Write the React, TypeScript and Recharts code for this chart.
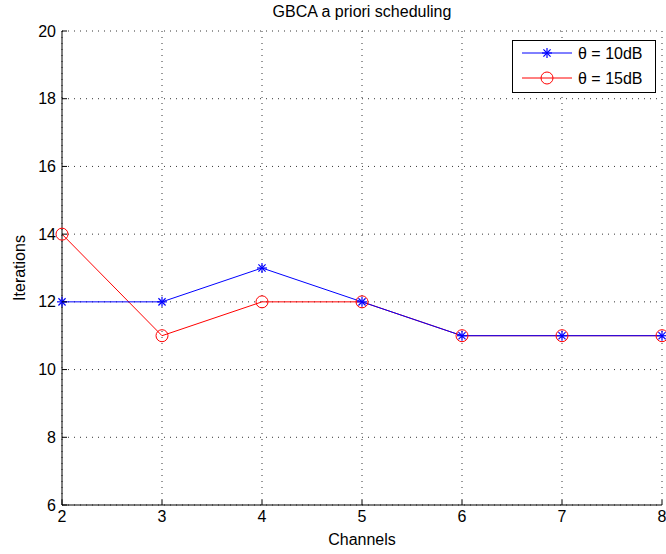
import React from 'react';
import { LineChart, Line, XAxis, YAxis, CartesianGrid } from 'recharts';

const channels = [2, 3, 4, 5, 6, 7, 8];
const iter10dB = [12, 12, 13, 12, 11, 11, 11];
const iter15dB = [14, 11, 12, 12, 11, 11, 11];
const xTicks = [2, 3, 4, 5, 6, 7, 8];
const yTicks = [6, 8, 10, 12, 14, 16, 18, 20];

const data = channels.map((c, i) => ({ ch: c, a: iter10dB[i], b: iter15dB[i] }));

const FONT = '"Liberation Sans", Arial, sans-serif';

const Star = (props: any) => {
  const { cx, cy } = props;
  if (cx == null || cy == null) return null;
  const r = 5;
  const d = 3.6;
  return (
    <g stroke="#0000ff" strokeWidth={1.2}>
      <line x1={cx - r} y1={cy} x2={cx + r} y2={cy} />
      <line x1={cx} y1={cy - r} x2={cx} y2={cy + r} />
      <line x1={cx - d} y1={cy - d} x2={cx + d} y2={cy + d} />
      <line x1={cx - d} y1={cy + d} x2={cx + d} y2={cy - d} />
    </g>
  );
};

const Ring = (props: any) => {
  const { cx, cy } = props;
  if (cx == null || cy == null) return null;
  return <circle cx={cx} cy={cy} r={6} fill="none" stroke="#ff0000" strokeWidth={1} />;
};

const YTick = (props: any) => {
  const { x, y, payload } = props;
  return (
    <g>
      <line x1={x} y1={y} x2={x + 5} y2={y} stroke="#000" />
      <text x={x - 6} y={y} textAnchor="end" dominantBaseline="central" fontSize={16} fontFamily={FONT} fill="#000">
        {payload.value}
      </text>
    </g>
  );
};

const XTick = (props: any) => {
  const { x, y, payload } = props;
  return (
    <g>
      <line x1={x} y1={y} x2={x} y2={y - 5} stroke="#000" />
      <text x={x} y={y + 17} textAnchor="middle" fontSize={16} fontFamily={FONT} fill="#000">
        {payload.value}
      </text>
    </g>
  );
};

const LegendBox = () => (
  <svg width={144} height={53} style={{ display: 'block' }}>
    <rect x={0.5} y={0.5} width={143} height={52} fill="#fff" stroke="#000" />
    <line x1={10} y1={13} x2={60} y2={13} stroke="#0000ff" />
    <Star cx={35} cy={13} />
    <text x={66} y={13} dominantBaseline="central" fontSize={16} fontFamily={FONT}>θ = 10dB</text>
    <line x1={10} y1={38} x2={60} y2={38} stroke="#ff0000" />
    <Ring cx={35} cy={38} />
    <text x={66} y={38} dominantBaseline="central" fontSize={16} fontFamily={FONT}>θ = 15dB</text>
  </svg>
);

export default function App() {
  return (
    <div style={{ position: 'fixed', left: 0, top: 0, width: 666, height: 554, background: '#fff' }}>
      <LineChart width={666} height={554} data={data} margin={{ top: 31, right: 4, bottom: 19, left: 0 }}>
        <CartesianGrid stroke="#000" strokeDasharray="1 5" strokeWidth={0.8} />
        <XAxis
          dataKey="ch"
          type="number"
          domain={[2, 8]}
          ticks={xTicks}
          interval={0}
          height={30}
          tickSize={0}
          tickMargin={0}
          tick={<XTick />}
          stroke="#000"
        />
        <YAxis
          type="number"
          domain={[6, 20]}
          ticks={yTicks}
          interval={0}
          width={62}
          tickSize={0}
          tickMargin={0}
          tick={<YTick />}
          stroke="#000"
        />
        <Line dataKey="b" stroke="#ff0000" strokeWidth={1} dot={<Ring />} isAnimationActive={false} />
        <Line dataKey="a" stroke="#0000ff" strokeWidth={1} dot={<Star />} isAnimationActive={false} />
      </LineChart>
      <div style={{ position: 'absolute', left: 512, top: 40 }}>
        <LegendBox />
      </div>
      <div style={{ position: 'absolute', left: 62, width: 600, top: 3, textAlign: 'center', fontSize: 16, fontFamily: FONT }}>
        GBCA a priori scheduling
      </div>
      <div style={{ position: 'absolute', left: 62, width: 600, top: 531, textAlign: 'center', fontSize: 16, fontFamily: FONT }}>
        Channels
      </div>
      <div
        style={{
          position: 'absolute',
          left: 20,
          top: 268,
          transform: 'translate(-50%, -50%) rotate(-90deg)',
          whiteSpace: 'nowrap',
          fontSize: 16,
          fontFamily: FONT,
        }}
      >
        Iterations
      </div>
    </div>
  );
}
